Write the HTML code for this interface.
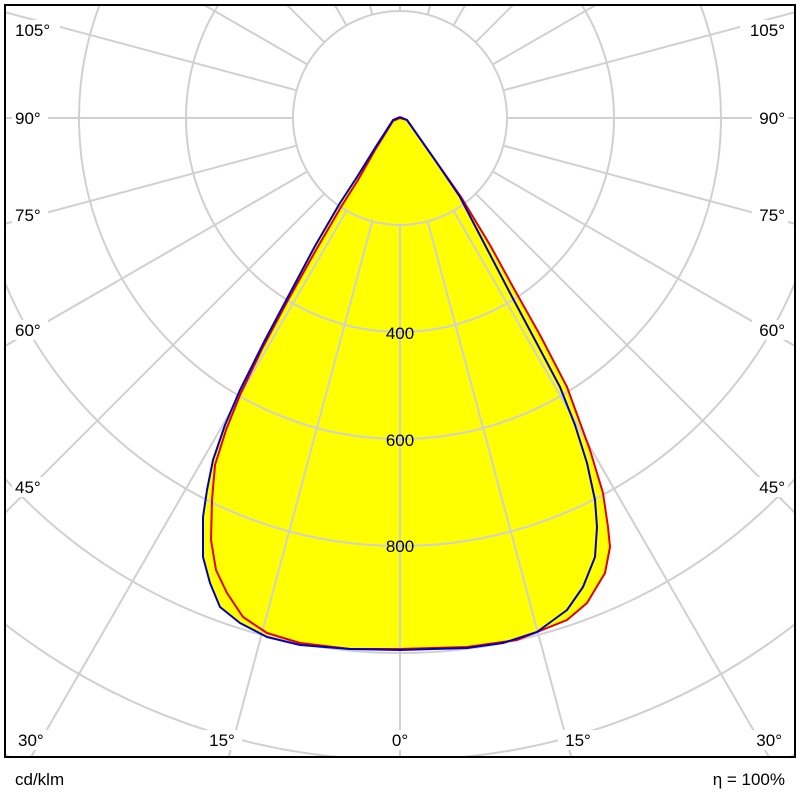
<!DOCTYPE html>
<html><head><style>
html,body{margin:0;padding:0;background:#fff;width:800px;height:800px;overflow:hidden;}
svg{display:block;overflow:hidden;}
text{font-family:"Liberation Sans","DejaVu Sans",sans-serif;font-size:17px;fill:#000;}
</style></head><body>
<svg width="800" height="800" viewBox="0 0 800 800" xmlns="http://www.w3.org/2000/svg">
<defs><clipPath id="c"><rect x="5" y="5" width="790" height="752"/></clipPath></defs>
<g clip-path="url(#c)">
<path fill="#ffff00" stroke="none" d="M400,117 L393,120 L375,148 L357,177 L340,203 L315,246 L290,293 L265,340 L240,390 L225,425 L213,460 L203,517 L203,557 L210,583 L220,607 L240,623 L267,637 L300,645 L350,649 L400,650 L467,648 L517,640 L567,620 L587,603 L605,573 L610,547 L608,527 L603,493 L590,450 L567,387 L540,335 L513,287 L490,245 L460,197 L435,160 L407,120 Z"/>
<g fill="none" stroke="#d0d0d0" stroke-width="2">
<circle cx="400" cy="118" r="107"/>
<circle cx="400" cy="118" r="214"/>
<circle cx="400" cy="118" r="321"/>
<circle cx="400" cy="118" r="428"/>
<circle cx="400" cy="118" r="535"/>
<circle cx="400" cy="118" r="642"/>
<circle cx="400" cy="118" r="749"/>
<line x1="400" y1="225" x2="400" y2="900"/>
<line x1="400" y1="225" x2="400" y2="900" transform="rotate(15 400 118)"/>
<line x1="400" y1="225" x2="400" y2="900" transform="rotate(30 400 118)"/>
<line x1="400" y1="225" x2="400" y2="900" transform="rotate(45 400 118)"/>
<line x1="400" y1="225" x2="400" y2="900" transform="rotate(60 400 118)"/>
<line x1="400" y1="225" x2="400" y2="900" transform="rotate(75 400 118)"/>
<line x1="400" y1="225" x2="400" y2="900" transform="rotate(90 400 118)"/>
<line x1="400" y1="225" x2="400" y2="900" transform="rotate(105 400 118)"/>
<line x1="400" y1="225" x2="400" y2="900" transform="rotate(120 400 118)"/>
<line x1="400" y1="225" x2="400" y2="900" transform="rotate(135 400 118)"/>
<line x1="400" y1="225" x2="400" y2="900" transform="rotate(150 400 118)"/>
<line x1="400" y1="225" x2="400" y2="900" transform="rotate(165 400 118)"/>
<line x1="400" y1="225" x2="400" y2="900" transform="rotate(180 400 118)"/>
<line x1="400" y1="225" x2="400" y2="900" transform="rotate(-15 400 118)"/>
<line x1="400" y1="225" x2="400" y2="900" transform="rotate(-30 400 118)"/>
<line x1="400" y1="225" x2="400" y2="900" transform="rotate(-45 400 118)"/>
<line x1="400" y1="225" x2="400" y2="900" transform="rotate(-60 400 118)"/>
<line x1="400" y1="225" x2="400" y2="900" transform="rotate(-75 400 118)"/>
<line x1="400" y1="225" x2="400" y2="900" transform="rotate(-90 400 118)"/>
<line x1="400" y1="225" x2="400" y2="900" transform="rotate(-105 400 118)"/>
<line x1="400" y1="225" x2="400" y2="900" transform="rotate(-120 400 118)"/>
<line x1="400" y1="225" x2="400" y2="900" transform="rotate(-135 400 118)"/>
<line x1="400" y1="225" x2="400" y2="900" transform="rotate(-150 400 118)"/>
<line x1="400" y1="225" x2="400" y2="900" transform="rotate(-165 400 118)"/>
</g>
<polyline fill="none" stroke="#e00000" stroke-width="2" stroke-linejoin="round" points="400,118 393,121 375,150 358,180 341,207 316,250 288,300 263,347 240,395 226,430 215,465 212,500 211,540 216,570 227,593 243,617 267,633 300,643 350,649 400,649 467,647 517,640 567,620 587,603 605,573 610,547 608,527 603,493 590,450 567,387 540,335 513,287 490,245 461,197 435,160 407,120 400,118"/>
<polyline fill="none" stroke="#0000c0" stroke-width="2" stroke-linejoin="round" points="400,117 393,120 375,148 357,177 340,203 315,246 290,293 265,340 240,390 225,425 213,460 207,490 203,517 203,557 210,583 220,607 240,623 267,637 300,645 350,649 400,650 467,648 503,643 537,632 567,610 583,587 595,557 597,527 595,500 587,463 575,425 560,387 535,340 510,293 485,245 460,197 435,160 407,120 400,117"/>
<g fill="#fff">
<rect x="12" y="20" width="48" height="20"/><rect x="740" y="20" width="48" height="20"/>
<rect x="12" y="108" width="36" height="20"/><rect x="752" y="108" width="36" height="20"/>
<rect x="12" y="205" width="36" height="20"/><rect x="752" y="205" width="36" height="20"/>
<rect x="12" y="320" width="36" height="20"/><rect x="752" y="320" width="36" height="20"/>
<rect x="12" y="477" width="36" height="20"/><rect x="752" y="477" width="36" height="20"/>
<rect x="14" y="730" width="38" height="20"/><rect x="748" y="730" width="38" height="20"/>
<rect x="202" y="730" width="40" height="20"/><rect x="558" y="730" width="40" height="20"/>
<rect x="386" y="730" width="28" height="20"/>
</g>
</g>
<rect x="5" y="5" width="790" height="752" fill="none" stroke="#000" stroke-width="2"/>
<text x="15" y="36">105°</text><text x="785" y="36" text-anchor="end">105°</text>
<text x="15" y="124">90°</text><text x="785" y="124" text-anchor="end">90°</text>
<text x="15" y="221">75°</text><text x="785" y="221" text-anchor="end">75°</text>
<text x="15" y="336">60°</text><text x="785" y="336" text-anchor="end">60°</text>
<text x="15" y="493">45°</text><text x="785" y="493" text-anchor="end">45°</text>
<text x="18" y="746">30°</text><text x="782" y="746" text-anchor="end">30°</text>
<text x="222" y="746" text-anchor="middle">15°</text><text x="578" y="746" text-anchor="middle">15°</text>
<text x="400" y="746" text-anchor="middle">0°</text>
<text x="400" y="339" text-anchor="middle">400</text>
<text x="400" y="446" text-anchor="middle">600</text>
<text x="400" y="552" text-anchor="middle">800</text>
<text x="15" y="785">cd/klm</text>
<text x="785" y="785" text-anchor="end">η = 100%</text>
</svg>
</body></html>
